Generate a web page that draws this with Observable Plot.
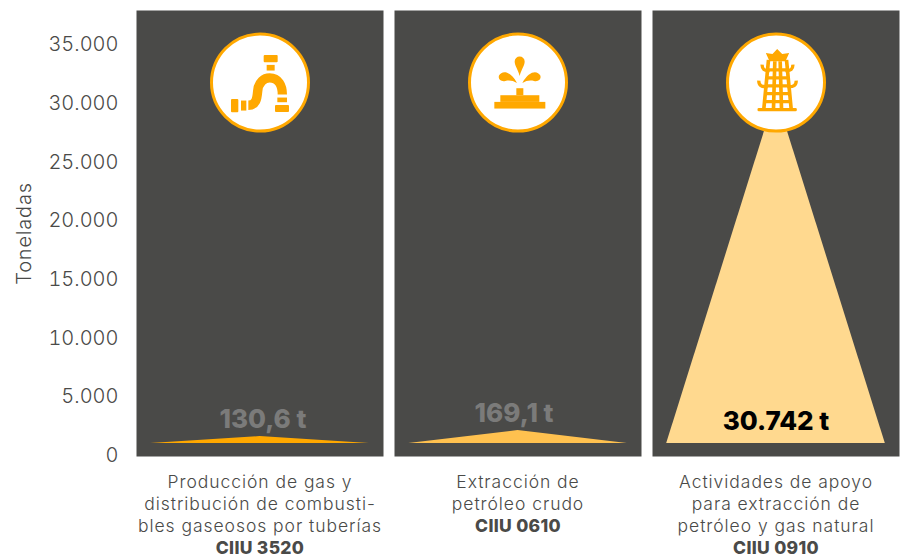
<!DOCTYPE html>
<html><head><meta charset="utf-8">
<script src="https://cdn.jsdelivr.net/npm/d3@7"></script>
<script src="https://cdn.jsdelivr.net/npm/@observablehq/plot@0.6"></script>
<style>html,body{margin:0;padding:0;background:#fff}svg{display:block}
.wide text{letter-spacing:.95px}
.codes text{letter-spacing:.3px}
[aria-label="y-axis label"] text{letter-spacing:.8px}
</style>
</head><body><div id="c"></div>
<script>
const categories = ["CIIU 3520", "CIIU 0610", "CIIU 0910"];
const valueLabels = ["130,6 t", "169,1 t", "30.742 t"];
const tips = [1615, 2125, 30742];
const labelLevels = [3060, 3570, 2890];
const labelShifts = [0.024, -0.032, 0];
const labelColors = ["#7b7b7a", "#7b7b7a", "#000000"];
const fills = ["#ffa800", "#ffc14f", "#ffd98f"];
const baseLevel = 1020;
const spread = 0.885;
const iconLevel = 31780;
const descriptions = [
  "Producción de gas y\ndistribución de combusti-\nbles gaseosos por tuberías",
  "Extracción de\npetróleo crudo",
  "Actividades de apoyo\npara extracción de\npetróleo y gas natural"
];
const yTicks = [0, 5000, 10000, 15000, 20000, 25000, 30000, 35000];

const O = "#ffa800";
const wrap = (vb, body) => "data:image/svg+xml," + encodeURIComponent(
  `<svg xmlns="http://www.w3.org/2000/svg" viewBox="${vb} 300 300" width="100" height="100"><g fill="${O}" stroke="none">${body}</g></svg>`);
const pipeIcon = wrap("27 36", `
  <rect x="188" y="103" width="42" height="22" rx="3"/><rect x="197" y="133" width="24" height="17"/>
  <path d="M142 254C165 254 168 235 170 212C172 184 190 172 206 172C232 172 244 195 244 222" fill="none" stroke="${O}" stroke-width="28"/>
  <rect x="229" y="231" width="29" height="14"/><rect x="222" y="253" width="42" height="21" rx="3"/>
  <rect x="120" y="240" width="16" height="30"/><rect x="90" y="235" width="22" height="40" rx="3"/>`);
const fountainIcon = wrap("23 36", `
  <path d="M178 166C172 145 163 135 163 123A15 15 0 0 1 193 123C193 135 184 145 178 166Z"/>
  <path d="M170 187C150 150 125 148 116 165C112 178 125 184 135 181C147 178 158 180 170 187Z"/>
  <path d="M186 187C206 150 231 148 240 165C244 178 231 184 221 181C209 178 198 180 186 187Z"/>
  <rect x="168" y="203" width="21" height="21"/><rect x="120" y="224" width="117" height="20"/><rect x="102" y="244" width="153" height="20"/>`);
const towerIcon = wrap("27.5 36", `
  <path d="M147 97L167 100L181 85L196 100L217 97L206 122L158 122Z"/>
  <g fill="none" stroke="${O}">
    <path d="M155 118L141 265M209 118L223 265M174 122L170 265M190 122L194 265" stroke-width="11"/>
    <path d="M155 148H209M152 172H212M150 196H214M148 219H216M146 243H218" stroke-width="10"/>
    <path d="M158 150C143 152 135 146 136 132M206 150C221 152 229 146 228 132" stroke-width="10"/>
    <path d="M152 198C135 200 125 194 126 180M212 198C229 200 239 194 238 180" stroke-width="10"/>
  </g>
  <rect x="122" y="262" width="118" height="10" rx="4"/>`);
const icons = [pipeIcon, fountainIcon, towerIcon];

const panels = categories.map((c, i) => ({
  cat: c, fill: fills[i], tip: tips[i], label: valueLabels[i], level: labelLevels[i], shift: labelShifts[i],
  color: labelColors[i], icon: icons[i], desc: descriptions[i],
  code: "\n".repeat(descriptions[i].split("\n").length) + c
}));
const triangles = panels.flatMap(p => [
  {cat: p.cat, fill: p.fill, x: -spread, top: baseLevel},
  {cat: p.cat, fill: p.fill, x: 0, top: p.tip},
  {cat: p.cat, fill: p.fill, x: spread, top: baseLevel}
]);
const font = "Inter, 'Open Sans', sans-serif";

const chart = Plot.plot({
  width: 913, height: 560,
  marginTop: 10, marginBottom: 104, marginLeft: 136, marginRight: 14,
  style: {fontFamily: font, background: "#fff"},
  fx: {domain: categories, paddingInner: 0.043, paddingOuter: 0, axis: null},
  x: {domain: [-1, 1], axis: null},
  y: {domain: [-85, 37920], label: "Toneladas"},
  marks: [
    Plot.frame({fill: "#4a4a48", stroke: null}),
    Plot.areaY(triangles, {fx: "cat", x: "x", y1: baseLevel, y2: "top", fill: "fill", z: "cat"}),
    Plot.dot(panels, {fx: "cat", x: () => 0, y: () => iconLevel, r: 48.5, fill: "#fff", stroke: O, strokeWidth: 3}),
    Plot.image(panels, {fx: "cat", x: () => 0, y: () => iconLevel, src: "icon", width: 100, height: 100}),
    Plot.text(panels, {fx: "cat", x: "shift", y: "level", text: "label", fill: "color", fontSize: 26, fontWeight: 800}),
    Plot.text(panels, {fx: "cat", x: () => 0, frameAnchor: "bottom", lineAnchor: "top", dy: 16, text: "desc", fontSize: 17.5, fontWeight: 300, lineHeight: 1.26, fill: "#4a4a48", className: "wide"}),
    Plot.text(panels, {fx: "cat", x: () => 0, frameAnchor: "bottom", lineAnchor: "top", dy: 16, text: "code", fontSize: 17.5, fontWeight: 800, lineHeight: 1.26, fill: "#4a4a48", className: "codes"}),
    Plot.axisY({ticks: yTicks, tickSize: 0, tickPadding: 18, fontSize: 20, fontWeight: 300, color: "#4a4a48",
      tickFormat: d => d3.format(",")(d).replace(/,/g, "."),
      label: "Toneladas", labelAnchor: "center", labelArrow: "none", labelOffset: 120})
  ]
});
document.getElementById("c").append(chart);
</script></body></html>
